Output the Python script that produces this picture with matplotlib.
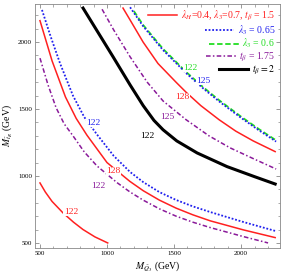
import matplotlib
matplotlib.use("Agg")
import matplotlib.pyplot as plt
from matplotlib.ticker import MultipleLocator

plt.rcParams['font.family'] = ['Liberation Serif', 'DejaVu Serif']
plt.rcParams['mathtext.fontset'] = 'stix'

# Contours (M_Q3, M_tR) in GeV
red_low_x = [500, 540, 590, 672, 750, 821, 910, 1005]
red_low_y = [948, 880, 810, 724, 655, 600, 545, 500]

red_mid_x = [500, 590, 690, 770, 850, 1000, 1170, 1270, 1390, 1515, 1640, 1770, 2015, 2254]
red_mid_y = [2160, 1860, 1590, 1430, 1305, 1100, 960, 890, 820, 760, 710, 665, 598, 540]

red_up_x = [1119, 1172, 1269, 1380, 1515, 1590, 1700, 1836, 1960, 2090, 2254]
red_up_y = [2254, 2165, 2000, 1840, 1700, 1625, 1525, 1420, 1335, 1262, 1182]

blue_low_x = [515, 580, 650, 746, 830, 925, 1050, 1172, 1269, 1390, 1515, 1640, 1769, 2015, 2254]
blue_low_y = [2240, 2040, 1840, 1600, 1440, 1310, 1150, 1030, 955, 880, 821, 773, 731, 657, 590]

blue_up_x = [1172, 1269, 1418, 1590, 1716, 1836, 2000, 2130, 2261]
blue_up_y = [2260, 2119, 1940, 1768, 1655, 1557, 1434, 1343, 1257]

green_x = [1200, 1269, 1418, 1590, 1716, 1836, 2000, 2130, 2261]
green_y = [2232, 2128, 1949, 1777, 1664, 1566, 1443, 1352, 1266]

purple_low_x = [500, 560, 620, 680, 746, 830, 925, 1075, 1172, 1269, 1390, 1515, 1640, 1769, 2015, 2201]
purple_low_y = [1880, 1680, 1510, 1390, 1300, 1180, 1075, 950, 880, 820, 755, 700, 655, 615, 548, 500]

purple_up_x = [963, 1050, 1172, 1300, 1418, 1590, 1760, 1918, 2090, 2261]
purple_up_y = [2245, 2090, 1890, 1700, 1560, 1420, 1300, 1210, 1130, 1052]

black_x = [821, 925, 1045, 1172, 1270, 1350, 1418, 1520, 1672, 1895, 2100, 2254]
black_y = [2254, 2085, 1890, 1680, 1525, 1415, 1345, 1262, 1172, 1070, 995, 940]

# contour labels
lab_x = [731, 1045, 933, 896, 1298, 1448, 1560, 1716, 1619]
lab_y = [731, 1037, 925, 1396, 1299, 1440, 1590, 1709, 1806]
lab_t = ['122', '128', '122', '122', '122', '125', '128', '125', '122']
lab_c = ['red', 'red', 'purple', 'blue', 'black', 'purple', 'red', 'blue', 'green']

legend_labels = [r'$\lambda_H$=0.4, $\lambda_3$=0.7, $t_\beta$ = 1.5',
                 r'$\lambda_3$ = 0.65', r'$\lambda_3$ = 0.6',
                 r'$t_\beta$ = 1.75', r'$t_\beta = 2$']

RED = '#ff2020'
BLUE = '#2020ee'
GREEN = '#22dd22'
PURPLE = '#8a1a9a'
cmap = {'red': RED, 'blue': BLUE, 'purple': PURPLE, 'black': 'black', 'green': GREEN}

fig = plt.figure(figsize=(2.86, 2.79), dpi=100)
ax = fig.add_axes([0.122, 0.111, 0.857, 0.875])

DASHDOT = (0, (3, 1.5, 1, 1.5))
l1, = ax.plot(red_mid_x, red_mid_y, color=RED, lw=1.1)
ax.plot(red_low_x, red_low_y, color=RED, lw=1.1)
ax.plot(red_up_x, red_up_y, color=RED, lw=1.1)
l3, = ax.plot(green_x, green_y, color=GREEN, lw=1.3, ls=(0, (3, 1.5)))
l2, = ax.plot(blue_low_x, blue_low_y, color=BLUE, lw=1.3, ls=(0, (1, 1)))
ax.plot(blue_up_x, blue_up_y, color=BLUE, lw=1.3, ls=(0, (1, 1)))
l4, = ax.plot(purple_low_x, purple_low_y, color=PURPLE, lw=1.1, ls=DASHDOT)
ax.plot(purple_up_x, purple_up_y, color=PURPLE, lw=1.1, ls=DASHDOT)
l5, = ax.plot(black_x, black_y, color='black', lw=2.2)

for x, y, t, c in zip(lab_x, lab_y, lab_t, lab_c):
    ax.text(x, y, t, color=cmap[c], fontsize=6.8, ha='center', va='center',
            bbox=dict(facecolor='white', edgecolor='none', pad=0.3))

leg = ax.legend([l1, l2, l3, l4, l5], legend_labels, loc='upper right',
                fontsize=7, frameon=False, handlelength=3.0, handletextpad=0.4,
                labelspacing=0.03, borderaxespad=0.15, borderpad=0.35)
for txt, c in zip(leg.get_texts(), [RED, BLUE, GREEN, PURPLE, 'black']):
    txt.set_color(c)
for col in leg._legend_handle_box.get_children():
    col.align = 'right'

ax.set_xlim(462, 2290)
ax.set_ylim(462, 2285)
ax.xaxis.set_major_locator(MultipleLocator(500))
ax.yaxis.set_major_locator(MultipleLocator(500))
ax.xaxis.set_minor_locator(MultipleLocator(100))
ax.yaxis.set_minor_locator(MultipleLocator(100))
ax.tick_params(which='both', direction='in', top=True, right=True,
               labelsize=5, color='#888888', pad=2)
ax.tick_params(which='major', length=3, width=0.6)
ax.tick_params(which='minor', length=1.8, width=0.5)
for s in ax.spines.values():
    s.set_color('#888888')
    s.set_linewidth(0.6)

ax.set_xlabel(r'$M_{\tilde{Q}_3}$ (GeV)', fontsize=7, labelpad=3)
ax.set_ylabel(r'$M_{\tilde{t}_R}$ (GeV)', fontsize=7, labelpad=2)

fig.savefig('out.png', dpi=100)
